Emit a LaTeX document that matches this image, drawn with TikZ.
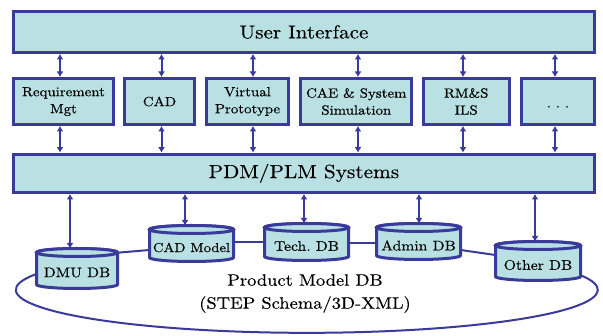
\documentclass[tikz,border=0pt]{standalone}
\usepackage{fontspec}
\setmainfont{lmroman10-regular.otf}[FakeStretch=1.12,FakeBold=0.3]
\usetikzlibrary{arrows.meta,calc}

\definecolor{boxfill}{HTML}{B9E0E3}
\definecolor{edge}{HTML}{3A3A9A}

\pgfdeclarelayer{back}
\pgfdeclarelayer{mid}
\pgfsetlayers{back,mid,main}

\tikzset{
  panel/.style={draw=edge, fill=boxfill, line width=3pt, inner sep=0pt},
  tool/.style={panel, minimum height=46pt, align=center,
               font=\fontsize{13.3}{17}\selectfont},
  link/.style={draw=edge, line width=2pt,
               {Latex[length=5.5pt,width=7pt]}-{Latex[length=5.5pt,width=7pt]}},
  dbwire/.style={draw=edge, line width=2pt},
  cylline/.style={draw=edge, fill=boxfill, line width=3pt},
  dbtext/.style={inner sep=0pt, font=\fontsize{14}{16}\selectfont},
}

% database cylinder: name, centre x, top y, bottom y, width, label
\newcommand\dbcyl[6]{%
  \pgfmathsetmacro\cylL{#2-#5/2}%
  \pgfmathsetmacro\cylR{#2+#5/2}%
  \pgfmathsetmacro\cylT{#3+4}%
  \pgfmathsetmacro\cylB{#4-4}%
  \pgfmathsetmacro\cylM{(#3+#4)/2+4}%
  \pgfmathsetmacro\cylH{#4-#3-8}%
  \pgfmathsetmacro\cylRx{#5/2}%
  \begin{pgfonlayer}{mid}
    \draw[cylline] (\cylL,\cylT) -- (\cylL,\cylB)
      arc[start angle=180, end angle=360, x radius=\cylRx pt, y radius=4pt]
      -- (\cylR,\cylT)
      arc[start angle=0, end angle=180, x radius=\cylRx pt, y radius=4pt] -- cycle;
    \draw[cylline] (#2,\cylT) ellipse[x radius=\cylRx pt, y radius=4pt];
  \end{pgfonlayer}
  \node[dbtext, minimum width=#5pt, minimum height=\cylH pt] (#1) at (#2,\cylM) {#6};
  \coordinate (#1-top) at (#2,#3);
}

\begin{document}
\begin{tikzpicture}[x=1pt,y=-1pt]
\useasboundingbox (0,0) rectangle (603,336);

% columns of the vertical links
\coordinate (a1) at (60,0);
\coordinate (a2) at (161.5,0);
\coordinate (a3) at (253,0);
\coordinate (a4) at (358,0);
\coordinate (a5) at (463,0);
\coordinate (a6) at (555,0);
\coordinate (b1) at (70,0);
\coordinate (b2) at (185,0);
\coordinate (b3) at (304,0);
\coordinate (b4) at (419,0);
\coordinate (b5) at (535,0);

% top bar
\node[panel, minimum width=580.7pt, minimum height=41pt,
      font=\fontsize{18.8}{20}\selectfont] (ui) at (303.9,32) {User Interface};

% application tools
\node[tool, minimum width=100pt]  (req)  at (63.5,101.5)  {Requirement\\Mgt};
\node[tool, minimum width=70pt]   (cad)  at (159.5,101.5) {CAD};
\node[tool, minimum width=82pt]   (vp)   at (247.5,101.5) {Virtual\\Prototype};
\node[tool, minimum width=111pt]  (cae)  at (356.3,101.5) {CAE \& System\\Simulation};
\node[tool, minimum width=86pt]   (rms)  at (466.2,101.5) {RM\&S\\ILS};
\node[tool, minimum width=72.7pt, text height=14pt, text depth=2pt]
     (more) at (557.9,101.5) {.\ .\ .};

% PDM / PLM bar
\node[panel, minimum width=580.7pt, minimum height=38.3pt,
      font=\fontsize{19}{21}\selectfont] (pdm) at (303.9,173.3) {PDM/PLM Systems};

% databases
\dbcyl{dmu}{77}{248.5}{288.5}{81}{DMU DB}
\dbcyl{cadm}{191.5}{225.5}{261.5}{84}{\fontsize{13}{15}\selectfont CAD Model}
\dbcyl{tech}{306.5}{223.5}{260.5}{84}{Tech.\ DB}
\dbcyl{admin}{418.5}{223.5}{259.5}{84}{Admin DB}
\dbcyl{other}{538}{241.5}{280.5}{85}{Other DB}

\node[font=\fontsize{16.5}{23}\selectfont, align=center] (pmdb) at (305,293.5)
  {Product Model DB\\(STEP Schema/3D-XML)};

% vertical links
\foreach \n/\c in {req/a1,cad/a2,vp/a3,cae/a4,rms/a5,more/a6} {
  \draw[link] (ui.south -| \c) -- (\n.north -| \c);
  \draw[link] (\n.south -| \c) -- (pdm.north -| \c);
}
\foreach \n/\c in {dmu/b1,cadm/b2,tech/b3,admin/b4,other/b5}
  \draw[link] (pdm.south -| \c) -- (\n-top -| \c);

% ring of the product model database
\begin{pgfonlayer}{back}
  \draw[dbwire] ($(dmu.east)+(0,-19.8)$) -- ($(cadm.west)+(0,2.5)$);
  \draw[dbwire] ($(cadm.east)+(0,-5.5)$) -- ($(tech.west)+(0,-4)$);
  \draw[dbwire] ($(tech.east)+(0,-3)$) -- ($(admin.west)+(0,-2.5)$);
  \draw[dbwire] ($(admin.east)+(0,4.5)$) -- ($(other.west)+(0,-10)$);
  \draw[dbwire] ($(dmu.west)+(0,1.5)$)
    arc[start angle=158.4, end angle=379.7, x radius=291pt, y radius=43pt];
\end{pgfonlayer}
\end{tikzpicture}
\end{document}
